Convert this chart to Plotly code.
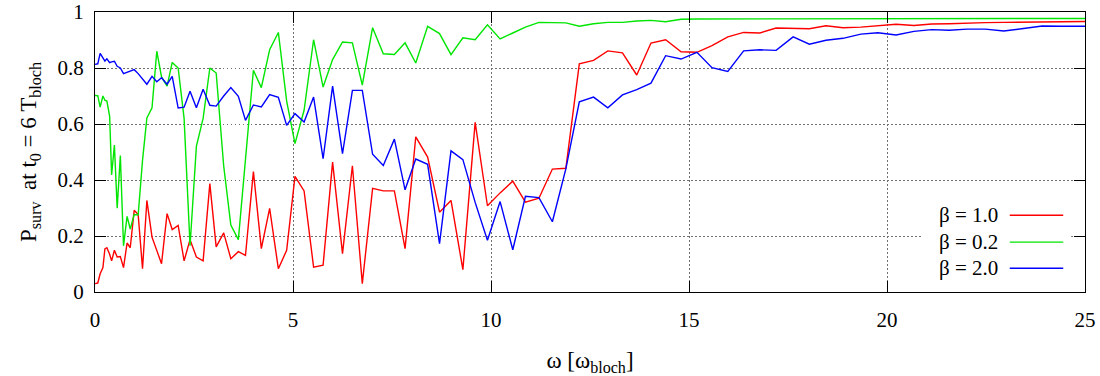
import plotly.graph_objects as go

# Driving frequency grid (in units of the Bloch frequency)
omega = [
    0, 0.07, 0.13, 0.2, 0.25, 0.3, 0.37, 0.42, 0.49, 0.56,
    0.64, 0.72, 0.81, 0.89, 0.99, 1.09, 1.2, 1.31, 1.44, 1.56,
    1.68, 1.82, 1.95, 2.1, 2.25, 2.4, 2.56, 2.73, 2.9, 3.06,
    3.25, 3.43, 3.62, 3.8, 4.0, 4.2, 4.41, 4.63, 4.84, 5.05,
    5.28, 5.52, 5.76, 6.0, 6.25, 6.5, 6.75, 7.01, 7.28, 7.56,
    7.83, 8.1, 8.4, 8.7, 8.99, 9.29, 9.6, 9.91, 10.23, 10.55,
    10.87, 11.21, 11.55, 11.89, 12.23, 12.59, 12.95, 13.32, 13.68, 14.04,
    14.41, 14.8, 15.2, 15.58, 15.98, 16.38, 16.79, 17.2, 17.63, 18.04,
    18.46, 18.89, 19.34, 19.77, 20.23, 20.68, 21.13, 21.57, 22.02, 22.48,
    22.95, 23.42, 23.92, 24.4, 25.0,
]

# Survival probability at t0 = 6 T_bloch
p_beta_1_0 = [
    0.03, 0.032, 0.065, 0.087, 0.154, 0.158, 0.135, 0.111, 0.149, 0.125,
    0.127, 0.087, 0.175, 0.158, 0.292, 0.277, 0.083, 0.327, 0.196, 0.15,
    0.101, 0.28, 0.223, 0.238, 0.111, 0.187, 0.125, 0.111, 0.387, 0.161,
    0.211, 0.119, 0.144, 0.131, 0.43, 0.155, 0.299, 0.083, 0.149, 0.413,
    0.361, 0.089, 0.096, 0.464, 0.137, 0.451, 0.03, 0.37, 0.361, 0.361,
    0.155, 0.554, 0.482, 0.285, 0.327, 0.08, 0.606, 0.308, 0.354, 0.396,
    0.321, 0.335, 0.439, 0.442, 0.815, 0.827, 0.861, 0.854, 0.775, 0.889,
    0.901, 0.858, 0.856, 0.88, 0.911, 0.927, 0.925, 0.943, 0.942, 0.94,
    0.951, 0.944, 0.946, 0.95, 0.956, 0.952, 0.957, 0.958, 0.961, 0.962,
    0.963, 0.964, 0.964, 0.965, 0.966,
]

p_beta_0_2 = [
    0.702, 0.701, 0.66, 0.70, 0.685, 0.682, 0.627, 0.418, 0.525, 0.299,
    0.487, 0.165, 0.27, 0.225, 0.277, 0.275, 0.47, 0.622, 0.658, 0.86,
    0.768, 0.735, 0.82, 0.80, 0.62, 0.165, 0.52, 0.62, 0.80, 0.782,
    0.45, 0.239, 0.187, 0.47, 0.792, 0.73, 0.865, 0.927, 0.682, 0.53,
    0.649, 0.901, 0.732, 0.83, 0.893, 0.89, 0.739, 0.944, 0.851, 0.848,
    0.89, 0.818, 0.949, 0.923, 0.848, 0.908, 0.901, 0.954, 0.904, 0.925,
    0.946, 0.963, 0.961, 0.961, 0.949, 0.958, 0.963, 0.963, 0.968, 0.97,
    0.965, 0.974, 0.975, 0.975, 0.975, 0.975, 0.975, 0.976, 0.976, 0.976,
    0.976, 0.976, 0.976, 0.976, 0.976, 0.976, 0.976, 0.977, 0.977, 0.977,
    0.977, 0.977, 0.977, 0.977, 0.977,
]

p_beta_2_0 = [
    0.813, 0.815, 0.852, 0.835, 0.825, 0.833, 0.819, 0.822, 0.824, 0.806,
    0.80, 0.78, 0.785, 0.79, 0.794, 0.78, 0.76, 0.742, 0.77, 0.751,
    0.765, 0.742, 0.77, 0.657, 0.66, 0.717, 0.658, 0.724, 0.667, 0.664,
    0.70, 0.73, 0.699, 0.613, 0.668, 0.661, 0.705, 0.695, 0.595, 0.637,
    0.607, 0.696, 0.476, 0.735, 0.494, 0.72, 0.72, 0.492, 0.452, 0.546,
    0.365, 0.475, 0.456, 0.173, 0.504, 0.473, 0.32, 0.185, 0.323, 0.151,
    0.342, 0.337, 0.251, 0.44, 0.679, 0.696, 0.658, 0.704, 0.723, 0.746,
    0.844, 0.832, 0.856, 0.801, 0.788, 0.861, 0.865, 0.863, 0.911, 0.885,
    0.899, 0.906, 0.921, 0.926, 0.918, 0.931, 0.937, 0.935, 0.939, 0.939,
    0.932, 0.942, 0.95, 0.949, 0.949,
]

series_labels = ["β = 1.0", "β = 0.2", "β = 2.0"]
series_colors = ["#ff0000", "#00e600", "#0000ff"]
x_ticks = [0, 5, 10, 15, 20, 25]
y_ticks = [0, 0.2, 0.4, 0.6, 0.8, 1]

FONT = "Liberation Serif"

fig = go.Figure()
for values, label, color in zip(
    [p_beta_1_0, p_beta_0_2, p_beta_2_0], series_labels, series_colors
):
    fig.add_trace(
        go.Scatter(
            x=omega, y=values, mode="lines", name=label,
            line=dict(color=color, width=1.4),
            showlegend=False,
        )
    )

axis_common = dict(
    showline=True, linecolor="black", linewidth=1.2, mirror="ticks",
    ticks="inside", ticklen=11, tickwidth=1.2, tickcolor="black",
    showgrid=True, gridcolor="#707070", griddash="1.5px,2.5px", gridwidth=1.2,
    zeroline=False, automargin=False,
    tickfont=dict(family=FONT, size=21, color="black"),
)

fig.update_xaxes(
    range=[0, 25], tickvals=x_ticks, ticktext=[str(t) for t in x_ticks],
    ticklabelstandoff=9,
    title=dict(text="ω [ω<sub>bloch</sub>]", font=dict(family=FONT, size=23, color="black"),
               standoff=20),
    **axis_common,
)
fig.update_yaxes(
    range=[0, 1], tickvals=y_ticks, ticktext=["0", "0.2", "0.4", "0.6", "0.8", "1"],
    ticklabelstandoff=6,
    title=dict(text="P<sub>surv</sub>\u00a0\u00a0at t<sub>0</sub> = 6 T<sub>bloch</sub>",
               font=dict(family=FONT, size=23, color="black"), standoff=14),
    **axis_common,
)

# Key box in the lower right corner, line samples to the right of the labels
shapes = [
    dict(type="rect", xref="paper", yref="paper", x0=0.836, x1=0.986, y0=0.012, y1=0.345,
         fillcolor="white", line=dict(width=0), layer="above"),
]
annotations = []
key_rows = [0.274, 0.178, 0.085]
for label, color, yk in zip(series_labels, series_colors, key_rows):
    annotations.append(dict(
        xref="paper", yref="paper", x=0.914, y=yk, text=label, showarrow=False,
        xanchor="right", yanchor="middle",
        font=dict(family=FONT, size=21, color="black"),
    ))
    shapes.append(dict(
        type="line", xref="paper", yref="paper", x0=0.924, x1=0.978, y0=yk, y1=yk,
        line=dict(color=color, width=1.4), layer="above",
    ))

fig.update_layout(
    width=1100, height=376,
    margin=dict(l=95, r=15, t=12, b=84),
    plot_bgcolor="white", paper_bgcolor="white",
    shapes=shapes, annotations=annotations,
    font=dict(family=FONT, color="black"),
)

fig.write_html("out.html")
